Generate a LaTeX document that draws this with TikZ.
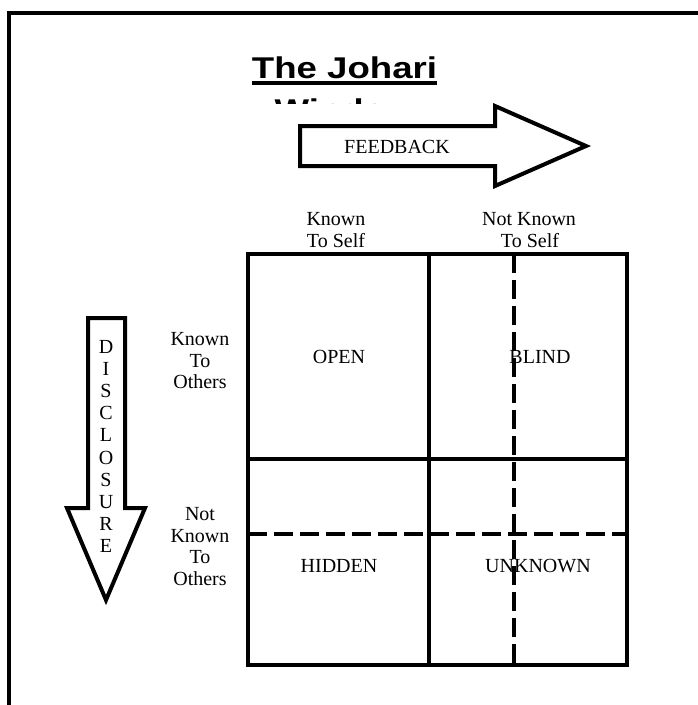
\documentclass[tikz,border=0pt]{standalone}
\usepackage{fontspec}
\usetikzlibrary{calc}
\setmainfont{Liberation Serif}
\newfontfamily\titlefont{Liberation Sans}
\begin{document}
\begin{tikzpicture}[x=1pt,y=-1pt,line join=miter]
\tikzset{
  frameline/.style={line width=4pt},
  gridline/.style={line width=4pt},
  dashline/.style={line width=4pt,dash pattern=on 19pt off 7pt},
  arrowshape/.style={line width=4pt,fill=white},
  lab/.style={font=\fontsize{20}{22}\selectfont,inner sep=0pt,anchor=base},
  ttl/.style={font=\titlefont\bfseries\fontsize{30}{34}\selectfont,inner sep=0pt,anchor=base}
}
\useasboundingbox (0,0) rectangle (698,705);
% outer frame
\draw[frameline] (9,712) -- (9,13) -- (705,13);
% title
\node[ttl] (title1) at (344.5,78) {\scalebox{1.22}[1]{The Johari}};
\draw[line width=3.2pt] ($(title1.base west)+(0,5)$) coordinate (ul1) -- ($(title1.base east)+(0,5)$) coordinate (ul2);
\begin{scope}
  \clip (150,40) rectangle (550,103.5);
  \node[ttl] (title2) at (344.5,120) {\scalebox{1.22}[1]{Window}};
\end{scope}
% feedback arrow
\draw[arrowshape] (300,126) -- (495,126) -- (495,106) -- (586,146) -- (495,186) -- (495,166) -- (300,166) -- cycle;
\node[lab] (fb) at (397,153) {FEEDBACK};
% disclosure arrow
\draw[arrowshape] (88,318) -- (125,318) -- (125,508) -- (145,508) -- (106,600) -- (67,508) -- (88,508) -- cycle;
\foreach \ch [count=\i from 0] in {D,I,S,C,L,O,S,U,R,E}{
  \node[lab] (dl\i) at (106,353+22.2*\i) {\ch};
}
% column labels
\node[lab] (c1a) at (336,225) {Known};
\node[lab] (c1b) at (336,247) {To Self};
\node[lab] (c2a) at (529,225) {Not Known};
\node[lab] (c2b) at (530,247) {To Self};
% row labels
\node[lab] (r1a) at (200,345) {Known};
\node[lab] (r1b) at (200,367) {To};
\node[lab] (r1c) at (200,388) {Others};
\node[lab] (r2a) at (200,520) {Not};
\node[lab] (r2b) at (200,542) {Known};
\node[lab] (r2c) at (200,563) {To};
\node[lab] (r2d) at (200,585) {Others};
% grid
\coordinate (g1) at (248,254);
\coordinate (g2) at (627,665);
\draw[gridline] (g1) rectangle (g2);
\draw[gridline] (429,254) -- (429,665);
\draw[gridline] (248,459) -- (627,459);
\draw[dashline] (514,254) -- (514,665);
\draw[dashline] (248,534) -- (627,534);
% cell labels
\node[lab] (open) at (339,363) {OPEN};
\node[lab] (blind) at (540,363) {BLIND};
\node[lab] (hidden) at (339,572) {HIDDEN};
\node[lab] (unknown) at (538,572) {UNKNOWN};
\end{tikzpicture}
\end{document}
